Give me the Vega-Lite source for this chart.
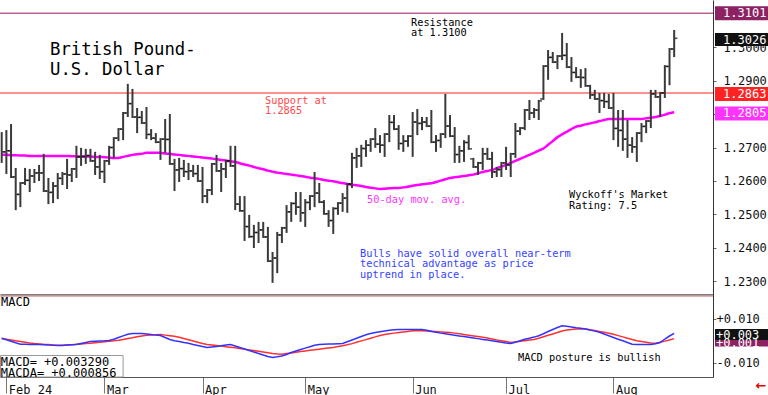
{
"$schema":"https://vega.github.io/schema/vega-lite/v6.json",
"padding":{"left":-4,"right":0,"top":0,"bottom":0},"spacing":0,"background":"white",
"config":{"view":{"stroke":null},"font":"DejaVu Sans Mono","axis":{"labelFont":"DejaVu Sans Mono","grid":false}},
"datasets":{"px":[
{"i":0,"o":null,"h":1.2746,"l":1.2654,"c":1.2687,"ma":1.2678,"m":0.00105,"s":0.00091},
{"i":1,"o":1.2687,"h":1.2752,"l":1.2621,"c":1.2690,"ma":1.2678,"m":0.00036,"s":0.00059},
{"i":2,"o":1.2690,"h":1.2770,"l":1.2609,"c":1.2612,"ma":1.2677,"m":-0.00036,"s":0.00023},
{"i":3,"o":1.2612,"h":1.2639,"l":1.2513,"c":1.2560,"ma":1.2677,"m":-0.00105,"s":-0.00009},
{"i":4,"o":1.2560,"h":1.2597,"l":1.2522,"c":1.2594,"ma":1.2676,"m":-0.00168,"s":-0.00045},
{"i":5,"o":1.2594,"h":1.2639,"l":1.2588,"c":1.2602,"ma":1.2676,"m":-0.00173,"s":-0.00077},
{"i":6,"o":1.2602,"h":1.2636,"l":1.2567,"c":1.2615,"ma":1.2675,"m":-0.00177,"s":-0.00114},
{"i":7,"o":1.2615,"h":1.2636,"l":1.2594,"c":1.2624,"ma":1.2675,"m":-0.00177,"s":-0.00141},
{"i":8,"o":1.2624,"h":1.2648,"l":1.2600,"c":1.2624,"ma":1.2675,"m":-0.00182,"s":-0.00155},
{"i":9,"o":1.2624,"h":1.2681,"l":1.2567,"c":1.2570,"ma":1.2675,"m":-0.00191,"s":-0.00173},
{"i":10,"o":1.2570,"h":1.2609,"l":1.2531,"c":1.2566,"ma":1.2675,"m":-0.00205,"s":-0.00186},
{"i":11,"o":1.2566,"h":1.2597,"l":1.2534,"c":1.2585,"ma":1.2675,"m":-0.00214,"s":-0.00205},
{"i":12,"o":1.2585,"h":1.2624,"l":1.2546,"c":1.2608,"ma":1.2675,"m":-0.00227,"s":-0.00218},
{"i":13,"o":1.2608,"h":1.2627,"l":1.2588,"c":1.2621,"ma":1.2675,"m":-0.00223,"s":-0.00218},
{"i":14,"o":1.2621,"h":1.2666,"l":1.2576,"c":1.2618,"ma":1.2675,"m":-0.00209,"s":-0.00205},
{"i":15,"o":1.2618,"h":1.2639,"l":1.2597,"c":1.2636,"ma":1.2674,"m":-0.00195,"s":-0.00191},
{"i":16,"o":1.2636,"h":1.2705,"l":1.2609,"c":1.2672,"ma":1.2674,"m":-0.00182,"s":-0.00173},
{"i":17,"o":1.2672,"h":1.2699,"l":1.2645,"c":1.2673,"ma":1.2673,"m":-0.00136,"s":-0.00159},
{"i":18,"o":1.2673,"h":1.2696,"l":1.2651,"c":1.2676,"ma":1.2673,"m":-0.00091,"s":-0.00141},
{"i":19,"o":1.2676,"h":1.2696,"l":1.2657,"c":1.2660,"ma":1.2673,"m":-0.00045,"s":-0.00123},
{"i":20,"o":1.2660,"h":1.2687,"l":1.2618,"c":1.2642,"ma":1.2672,"m":-0.00036,"s":-0.00100},
{"i":21,"o":1.2642,"h":1.2678,"l":1.2606,"c":1.2628,"ma":1.2672,"m":-0.00023,"s":-0.00082},
{"i":22,"o":1.2628,"h":1.2663,"l":1.2594,"c":1.2660,"ma":1.2671,"m":-0.00014,"s":-0.00059},
{"i":23,"o":1.2660,"h":1.2705,"l":1.2648,"c":1.2700,"ma":1.2670,"m":0,"s":-0.00036},
{"i":24,"o":1.2700,"h":1.2731,"l":1.2669,"c":1.2728,"ma":1.2669,"m":0.00059,"s":-0.00014},
{"i":25,"o":1.2728,"h":1.2758,"l":1.2719,"c":1.2755,"ma":1.2669,"m":0.00136,"s":0.00014},
{"i":26,"o":1.2755,"h":1.2806,"l":1.2722,"c":1.2803,"ma":1.2672,"m":0.00209,"s":0.00050},
{"i":27,"o":1.2803,"h":1.2890,"l":1.2791,"c":1.2831,"ma":1.2675,"m":0.00282,"s":0.00091},
{"i":28,"o":1.2831,"h":1.2875,"l":1.2788,"c":1.2791,"ma":1.2678,"m":0.00318,"s":0.00127},
{"i":29,"o":1.2791,"h":1.2818,"l":1.2743,"c":1.2790,"ma":1.2680,"m":0.00318,"s":0.00168},
{"i":30,"o":1.2790,"h":1.2809,"l":1.2770,"c":1.2773,"ma":1.2681,"m":0.00318,"s":0.00209},
{"i":31,"o":1.2773,"h":1.2821,"l":1.2725,"c":1.2739,"ma":1.2684,"m":0.00300,"s":0.00236},
{"i":32,"o":1.2739,"h":1.2755,"l":1.2722,"c":1.2728,"ma":1.2684,"m":0.00273,"s":0.00250},
{"i":33,"o":1.2728,"h":1.2743,"l":1.2713,"c":1.2716,"ma":1.2684,"m":0.00245,"s":0.00264},
{"i":34,"o":1.2716,"h":1.2728,"l":1.2663,"c":1.2725,"ma":1.2684,"m":0.00227,"s":0.00273},
{"i":35,"o":1.2725,"h":1.2785,"l":1.2684,"c":1.2724,"ma":1.2682,"m":0.00136,"s":0.00245},
{"i":36,"o":1.2724,"h":1.2800,"l":1.2648,"c":1.2651,"ma":1.2681,"m":0.00045,"s":0.00218},
{"i":37,"o":1.2651,"h":1.2666,"l":1.2570,"c":1.2633,"ma":1.2679,"m":-0.00014,"s":0.00191},
{"i":38,"o":1.2633,"h":1.2669,"l":1.2597,"c":1.2637,"ma":1.2678,"m":-0.00045,"s":0.00145},
{"i":39,"o":1.2637,"h":1.2663,"l":1.2612,"c":1.2628,"ma":1.2676,"m":-0.00091,"s":0.00091},
{"i":40,"o":1.2628,"h":1.2654,"l":1.2603,"c":1.2630,"ma":1.2675,"m":-0.00127,"s":0.00032},
{"i":41,"o":1.2630,"h":1.2648,"l":1.2612,"c":1.2622,"ma":1.2673,"m":-0.00182,"s":-0.00023},
{"i":42,"o":1.2622,"h":1.2648,"l":1.2597,"c":1.2600,"ma":1.2672,"m":-0.00227,"s":-0.00077},
{"i":43,"o":1.2600,"h":1.2642,"l":1.2534,"c":1.2555,"ma":1.2670,"m":-0.00273,"s":-0.00136},
{"i":44,"o":1.2555,"h":1.2576,"l":1.2534,"c":1.2573,"ma":1.2669,"m":-0.00318,"s":-0.00182},
{"i":45,"o":1.2573,"h":1.2654,"l":1.2558,"c":1.2651,"ma":1.2667,"m":-0.00295,"s":-0.00205},
{"i":46,"o":1.2651,"h":1.2678,"l":1.2627,"c":1.2630,"ma":1.2665,"m":-0.00273,"s":-0.00232},
{"i":47,"o":1.2630,"h":1.2654,"l":1.2567,"c":1.2636,"ma":1.2663,"m":-0.00241,"s":-0.00255},
{"i":48,"o":1.2636,"h":1.2663,"l":1.2609,"c":1.2660,"ma":1.2661,"m":-0.00205,"s":-0.00282},
{"i":49,"o":1.2660,"h":1.2705,"l":1.2642,"c":1.2645,"ma":1.2659,"m":-0.00182,"s":-0.00309},
{"i":50,"o":1.2645,"h":1.2705,"l":1.2513,"c":1.2531,"ma":1.2657,"m":-0.00250,"s":-0.00332},
{"i":51,"o":1.2531,"h":1.2555,"l":1.2508,"c":1.2511,"ma":1.2653,"m":-0.00318,"s":-0.00364},
{"i":52,"o":1.2511,"h":1.2555,"l":1.2421,"c":1.2464,"ma":1.2649,"m":-0.00386,"s":-0.00395},
{"i":53,"o":1.2464,"h":1.2499,"l":1.2430,"c":1.2434,"ma":1.2646,"m":-0.00455,"s":-0.00427},
{"i":54,"o":1.2434,"h":1.2469,"l":1.2400,"c":1.2446,"ma":1.2642,"m":-0.00523,"s":-0.00459},
{"i":55,"o":1.2446,"h":1.2478,"l":1.2415,"c":1.2454,"ma":1.2638,"m":-0.00591,"s":-0.00491},
{"i":56,"o":1.2454,"h":1.2478,"l":1.2430,"c":1.2433,"ma":1.2635,"m":-0.00659,"s":-0.00527},
{"i":57,"o":1.2433,"h":1.2463,"l":1.2358,"c":1.2361,"ma":1.2631,"m":-0.00727,"s":-0.00559},
{"i":58,"o":1.2361,"h":1.2388,"l":1.2296,"c":1.2370,"ma":1.2628,"m":-0.00773,"s":-0.00591},
{"i":59,"o":1.2370,"h":1.2448,"l":1.2325,"c":1.2439,"ma":1.2625,"m":-0.00741,"s":-0.00618},
{"i":60,"o":1.2439,"h":1.2463,"l":1.2415,"c":1.2460,"ma":1.2623,"m":-0.00704,"s":-0.00627},
{"i":61,"o":1.2460,"h":1.2528,"l":1.2445,"c":1.2508,"ma":1.2621,"m":-0.00636,"s":-0.00595},
{"i":62,"o":1.2508,"h":1.2537,"l":1.2478,"c":1.2533,"ma":1.2619,"m":-0.00545,"s":-0.00564},
{"i":63,"o":1.2533,"h":1.2567,"l":1.2499,"c":1.2522,"ma":1.2617,"m":-0.00477,"s":-0.00532},
{"i":64,"o":1.2522,"h":1.2567,"l":1.2478,"c":1.2505,"ma":1.2615,"m":-0.00409,"s":-0.00500},
{"i":65,"o":1.2505,"h":1.2546,"l":1.2463,"c":1.2536,"ma":1.2613,"m":-0.00345,"s":-0.00473},
{"i":66,"o":1.2536,"h":1.2558,"l":1.2513,"c":1.2555,"ma":1.2610,"m":-0.00282,"s":-0.00445},
{"i":67,"o":1.2555,"h":1.2627,"l":1.2522,"c":1.2564,"ma":1.2608,"m":-0.00214,"s":-0.00423},
{"i":68,"o":1.2564,"h":1.2594,"l":1.2534,"c":1.2537,"ma":1.2606,"m":-0.00182,"s":-0.00395},
{"i":69,"o":1.2537,"h":1.2543,"l":1.2499,"c":1.2502,"ma":1.2603,"m":-0.00173,"s":-0.00368},
{"i":70,"o":1.2502,"h":1.2513,"l":1.2463,"c":1.2482,"ma":1.2601,"m":-0.00164,"s":-0.00345},
{"i":71,"o":1.2482,"h":1.2522,"l":1.2442,"c":1.2518,"ma":1.2599,"m":-0.00155,"s":-0.00318},
{"i":72,"o":1.2518,"h":1.2537,"l":1.2499,"c":1.2534,"ma":1.2596,"m":-0.00145,"s":-0.00277},
{"i":73,"o":1.2534,"h":1.2564,"l":1.2508,"c":1.2549,"ma":1.2594,"m":-0.00136,"s":-0.00236},
{"i":74,"o":1.2549,"h":1.2594,"l":1.2505,"c":1.2591,"ma":1.2591,"m":-0.00059,"s":-0.00191},
{"i":75,"o":1.2591,"h":1.2684,"l":1.2579,"c":1.2669,"ma":1.2589,"m":0.00023,"s":-0.00141},
{"i":76,"o":1.2669,"h":1.2699,"l":1.2639,"c":1.2675,"ma":1.2587,"m":0.00100,"s":-0.00082},
{"i":77,"o":1.2675,"h":1.2708,"l":1.2642,"c":1.2697,"ma":1.2585,"m":0.00182,"s":-0.00018},
{"i":78,"o":1.2697,"h":1.2722,"l":1.2672,"c":1.2707,"ma":1.2582,"m":0.00259,"s":0.00041},
{"i":79,"o":1.2707,"h":1.2728,"l":1.2687,"c":1.2725,"ma":1.2580,"m":0.00318,"s":0.00105},
{"i":80,"o":1.2725,"h":1.2758,"l":1.2699,"c":1.2710,"ma":1.2578,"m":0.00364,"s":0.00164},
{"i":81,"o":1.2710,"h":1.2737,"l":1.2684,"c":1.2707,"ma":1.2576,"m":0.00400,"s":0.00227},
{"i":82,"o":1.2707,"h":1.2743,"l":1.2672,"c":1.2740,"ma":1.2577,"m":0.00432,"s":0.00277},
{"i":83,"o":1.2740,"h":1.2797,"l":1.2716,"c":1.2775,"ma":1.2578,"m":0.00464,"s":0.00305},
{"i":84,"o":1.2775,"h":1.2797,"l":1.2752,"c":1.2755,"ma":1.2579,"m":0.00491,"s":0.00336},
{"i":85,"o":1.2755,"h":1.2767,"l":1.2693,"c":1.2712,"ma":1.2579,"m":0.00500,"s":0.00364},
{"i":86,"o":1.2712,"h":1.2737,"l":1.2687,"c":1.2719,"ma":1.2581,"m":0.00500,"s":0.00391},
{"i":87,"o":1.2719,"h":1.2737,"l":1.2702,"c":1.2734,"ma":1.2583,"m":0.00500,"s":0.00414},
{"i":88,"o":1.2734,"h":1.2806,"l":1.2672,"c":1.2776,"ma":1.2586,"m":0.00500,"s":0.00441},
{"i":89,"o":1.2776,"h":1.2815,"l":1.2737,"c":1.2772,"ma":1.2588,"m":0.00500,"s":0.00455},
{"i":90,"o":1.2772,"h":1.2791,"l":1.2752,"c":1.2776,"ma":1.2590,"m":0.00500,"s":0.00441},
{"i":91,"o":1.2776,"h":1.2791,"l":1.2761,"c":1.2764,"ma":1.2592,"m":0.00468,"s":0.00427},
{"i":92,"o":1.2764,"h":1.2812,"l":1.2713,"c":1.2716,"ma":1.2593,"m":0.00423,"s":0.00414},
{"i":93,"o":1.2716,"h":1.2737,"l":1.2687,"c":1.2721,"ma":1.2597,"m":0.00377,"s":0.00405},
{"i":94,"o":1.2721,"h":1.2743,"l":1.2699,"c":1.2740,"ma":1.2601,"m":0.00336,"s":0.00391},
{"i":95,"o":1.2740,"h":1.2860,"l":1.2728,"c":1.2764,"ma":1.2605,"m":0.00305,"s":0.00377},
{"i":96,"o":1.2764,"h":1.2797,"l":1.2731,"c":1.2734,"ma":1.2609,"m":0.00273,"s":0.00364},
{"i":97,"o":1.2734,"h":1.2761,"l":1.2654,"c":1.2679,"ma":1.2611,"m":0.00241,"s":0.00336},
{"i":98,"o":1.2679,"h":1.2705,"l":1.2654,"c":1.2690,"ma":1.2613,"m":0.00209,"s":0.00305},
{"i":99,"o":1.2690,"h":1.2722,"l":1.2657,"c":1.2715,"ma":1.2615,"m":0.00182,"s":0.00273},
{"i":100,"o":1.2715,"h":1.2737,"l":1.2693,"c":1.2696,"ma":1.2617,"m":0.00150,"s":0.00241},
{"i":101,"o":1.2666,"h":1.2669,"l":1.2639,"c":1.2642,"ma":1.2619,"m":0.00118,"s":0.00209},
{"i":102,"o":1.2642,"h":1.2657,"l":1.2618,"c":1.2654,"ma":1.2623,"m":0.00086,"s":0.00177},
{"i":103,"o":1.2654,"h":1.2699,"l":1.2633,"c":1.2681,"ma":1.2627,"m":0.00050,"s":0.00145},
{"i":104,"o":1.2681,"h":1.2699,"l":1.2663,"c":1.2666,"ma":1.2630,"m":0.00018,"s":0.00109},
{"i":105,"o":1.2666,"h":1.2687,"l":1.2609,"c":1.2627,"ma":1.2633,"m":-0.00014,"s":0.00068},
{"i":106,"o":1.2627,"h":1.2642,"l":1.2612,"c":1.2634,"ma":1.2638,"m":-0.00045,"s":0.00027},
{"i":107,"o":1.2634,"h":1.2657,"l":1.2612,"c":1.2654,"ma":1.2643,"m":-0.00077,"s":-0.00009},
{"i":108,"o":1.2654,"h":1.2702,"l":1.2633,"c":1.2648,"ma":1.2648,"m":-0.00109,"s":-0.00050},
{"i":109,"o":1.2648,"h":1.2684,"l":1.2612,"c":1.2681,"ma":1.2654,"m":-0.00136,"s":-0.00091},
{"i":110,"o":1.2681,"h":1.2773,"l":1.2669,"c":1.2749,"ma":1.2660,"m":-0.00077,"s":-0.00064},
{"i":111,"o":1.2749,"h":1.2761,"l":1.2737,"c":1.2758,"ma":1.2666,"m":-0.00014,"s":-0.00036},
{"i":112,"o":1.2758,"h":1.2815,"l":1.2752,"c":1.2812,"ma":1.2672,"m":0.00055,"s":-0.00009},
{"i":113,"o":1.2812,"h":1.2842,"l":1.2782,"c":1.2803,"ma":1.2678,"m":0.00105,"s":0.00018},
{"i":114,"o":1.2803,"h":1.2818,"l":1.2788,"c":1.2812,"ma":1.2684,"m":0.00155,"s":0.00045},
{"i":115,"o":1.2812,"h":1.2842,"l":1.2782,"c":1.2839,"ma":1.2691,"m":0.00218,"s":0.00105},
{"i":116,"o":1.2845,"h":1.2946,"l":1.2842,"c":1.2943,"ma":1.2697,"m":0.00309,"s":0.00173},
{"i":117,"o":1.2943,"h":1.2991,"l":1.2902,"c":1.2969,"ma":1.2708,"m":0.00409,"s":0.00236},
{"i":118,"o":1.2969,"h":1.2985,"l":1.2952,"c":1.2955,"ma":1.2719,"m":0.00500,"s":0.00300},
{"i":119,"o":1.2955,"h":1.2976,"l":1.2934,"c":1.2973,"ma":1.2731,"m":0.00591,"s":0.00364},
{"i":120,"o":1.2973,"h":1.3042,"l":1.2961,"c":1.2975,"ma":1.2739,"m":0.00673,"s":0.00432},
{"i":121,"o":1.2975,"h":1.3012,"l":1.2937,"c":1.2940,"ma":1.2747,"m":0.00645,"s":0.00477},
{"i":122,"o":1.2940,"h":1.2970,"l":1.2896,"c":1.2924,"ma":1.2755,"m":0.00614,"s":0.00500},
{"i":123,"o":1.2924,"h":1.2940,"l":1.2907,"c":1.2910,"ma":1.2762,"m":0.00582,"s":0.00518},
{"i":124,"o":1.2910,"h":1.2934,"l":1.2878,"c":1.2909,"ma":1.2765,"m":0.00555,"s":0.00536},
{"i":125,"o":1.2909,"h":1.2937,"l":1.2881,"c":1.2884,"ma":1.2769,"m":0.00527,"s":0.00527},
{"i":126,"o":1.2884,"h":1.2887,"l":1.2845,"c":1.2857,"ma":1.2772,"m":0.00477,"s":0.00486},
{"i":127,"o":1.2857,"h":1.2872,"l":1.2842,"c":1.2845,"ma":1.2775,"m":0.00427,"s":0.00450},
{"i":128,"o":1.2845,"h":1.2863,"l":1.2803,"c":1.2840,"ma":1.2779,"m":0.00373,"s":0.00409},
{"i":129,"o":1.2840,"h":1.2863,"l":1.2818,"c":1.2837,"ma":1.2782,"m":0.00295,"s":0.00373},
{"i":130,"o":1.2837,"h":1.2860,"l":1.2815,"c":1.2818,"ma":1.2785,"m":0.00218,"s":0.00332},
{"i":131,"o":1.2818,"h":1.2863,"l":1.2722,"c":1.2757,"ma":1.2785,"m":0.00136,"s":0.00282},
{"i":132,"o":1.2757,"h":1.2812,"l":1.2702,"c":1.2751,"ma":1.2785,"m":0.00059,"s":0.00223},
{"i":133,"o":1.2751,"h":1.2812,"l":1.2690,"c":1.2725,"ma":1.2785,"m":-0.00014,"s":0.00164},
{"i":134,"o":1.2725,"h":1.2782,"l":1.2669,"c":1.2707,"ma":1.2785,"m":-0.00091,"s":0.00105},
{"i":135,"o":1.2707,"h":1.2731,"l":1.2684,"c":1.2702,"ma":1.2785,"m":-0.00173,"s":0.00045},
{"i":136,"o":1.2702,"h":1.2746,"l":1.2657,"c":1.2743,"ma":1.2785,"m":-0.00182,"s":-0.00009},
{"i":137,"o":1.2743,"h":1.2773,"l":1.2716,"c":1.2763,"ma":1.2785,"m":-0.00182,"s":-0.00045},
{"i":138,"o":1.2763,"h":1.2782,"l":1.2743,"c":1.2779,"ma":1.2787,"m":-0.00182,"s":-0.00082},
{"i":139,"o":1.2779,"h":1.2872,"l":1.2758,"c":1.2860,"ma":1.2789,"m":-0.00182,"s":-0.00118},
{"i":140,"o":1.2860,"h":1.2872,"l":1.2848,"c":1.2851,"ma":1.2791,"m":-0.00145,"s":-0.00123},
{"i":141,"o":1.2851,"h":1.2866,"l":1.2791,"c":1.2863,"ma":1.2794,"m":-0.00091,"s":-0.00082},
{"i":142,"o":1.2863,"h":1.2946,"l":1.2848,"c":1.2942,"ma":1.2798,"m":0.00068,"s":-0.00027},
{"i":143,"o":1.2942,"h":1.2997,"l":1.2886,"c":1.2994,"ma":1.2802,"m":0.00205,"s":0.00027},
{"i":144,"o":1.2994,"h":1.3051,"l":1.2970,"c":1.3026,"ma":1.2805,"m":0.00329,"s":0.000856}
]},
"resolve":{"scale":{"x":"independent","y":"independent"},"axis":{"x":"independent","y":"independent"}},
"vconcat":[
{"width":713,"height":295,
"layer":[
{"data":{"values":[{}]},"mark":{"type":"rule","color":"#c0608f","strokeWidth":1.5},"encoding":{"y":{"datum":1.3101,"type":"quantitative","scale":{"domain":[1.22597,1.31403],"nice":false,"zero":false}}}},
{"data":{"values":[{}]},"mark":{"type":"rule","color":"#ff6b6b","strokeWidth":1.5},"encoding":{"y":{"datum":1.2863,"type":"quantitative","scale":{"domain":[1.22597,1.31403],"nice":false,"zero":false}}}},
{"data":{"name":"px"},"mark":{"type":"line","color":"#ff00ff","strokeWidth":2.5,"interpolate":"monotone"},"encoding":{"x":{"field":"i","type":"quantitative","scale":{"domain":[-0.364,152.313],"nice":false,"zero":false}},"y":{"field":"ma","type":"quantitative","scale":{"domain":[1.22597,1.31403],"nice":false,"zero":false}}}},
{"data":{"name":"px"},"mark":{"type":"rule","color":"#3a3a3a","strokeWidth":2},"encoding":{
 "x":{"field":"i","type":"quantitative","scale":{"domain":[-0.364,152.313],"nice":false,"zero":false},"axis":{"orient":"bottom","labels":false,"ticks":false,"domain":true,"domainColor":"#000","domainWidth":2,"title":null}},
 "y":{"field":"l","type":"quantitative","scale":{"domain":[1.22597,1.31403],"nice":false,"zero":false},"axis":{"orient":"right","values":[1.23,1.24,1.25,1.26,1.27,1.28,1.29,1.30],"format":".4f","title":null,"tickSize":3,"tickColor":"#666","domainColor":"#333","labelFontSize":12,"labelColor":"#111","labelPadding":7,"labelBaseline":"middle"}},
 "y2":{"field":"h"}}},
{"data":{"name":"px"},"mark":{"type":"tick","orient":"horizontal","size":2.5,"thickness":1.5,"xOffset":-2,"color":"#000"},"encoding":{"x":{"field":"i","type":"quantitative","scale":{"domain":[-0.364,152.313],"nice":false,"zero":false}},"y":{"field":"o","type":"quantitative","scale":{"domain":[1.22597,1.31403],"nice":false,"zero":false}}}},
{"data":{"name":"px"},"mark":{"type":"tick","orient":"horizontal","size":2.5,"thickness":1.5,"xOffset":2,"color":"#000"},"encoding":{"x":{"field":"i","type":"quantitative","scale":{"domain":[-0.364,152.313],"nice":false,"zero":false}},"y":{"field":"c","type":"quantitative","scale":{"domain":[1.22597,1.31403],"nice":false,"zero":false}}}},
{"data":{"values":[{}]},"mark":{"type":"text","text":["British Pound-","U.S. Dollar"],"align":"left","baseline":"top","fontSize":17.3,"lineHeight":20,"fill":"#000"},"encoding":{"x":{"datum":10.34,"type":"quantitative","scale":{"domain":[-0.364,152.313],"nice":false,"zero":false}},"y":{"datum":1.3018,"type":"quantitative","scale":{"domain":[1.22597,1.31403],"nice":false,"zero":false}}}},
{"data":{"values":[{}]},"mark":{"type":"text","text":["Resistance","at 1.3100"],"align":"left","baseline":"top","fontSize":10.3,"lineHeight":10.3,"fill":"#000"},"encoding":{"x":{"datum":87.64,"type":"quantitative","scale":{"domain":[-0.364,152.313],"nice":false,"zero":false}},"y":{"datum":1.3088,"type":"quantitative","scale":{"domain":[1.22597,1.31403],"nice":false,"zero":false}}}},
{"data":{"values":[{}]},"mark":{"type":"text","text":["Support at","1.2865"],"align":"left","baseline":"top","fontSize":10.3,"lineHeight":10,"fill":"#ff4848"},"encoding":{"x":{"datum":56.38,"type":"quantitative","scale":{"domain":[-0.364,152.313],"nice":false,"zero":false}},"y":{"datum":1.2854,"type":"quantitative","scale":{"domain":[1.22597,1.31403],"nice":false,"zero":false}}}},
{"data":{"values":[{}]},"mark":{"type":"text","text":"50-day mov. avg.","align":"left","baseline":"top","fontSize":10.3,"fill":"#ff33ff"},"encoding":{"x":{"datum":78.22,"type":"quantitative","scale":{"domain":[-0.364,152.313],"nice":false,"zero":false}},"y":{"datum":1.2557,"type":"quantitative","scale":{"domain":[1.22597,1.31403],"nice":false,"zero":false}}}},
{"data":{"values":[{}]},"mark":{"type":"text","text":["Bulls have solid overall near-term","technical advantage as price","uptrend in place."],"align":"left","baseline":"top","fontSize":10.3,"lineHeight":10.7,"fill":"#3344ff"},"encoding":{"x":{"datum":76.72,"type":"quantitative","scale":{"domain":[-0.364,152.313],"nice":false,"zero":false}},"y":{"datum":1.23985,"type":"quantitative","scale":{"domain":[1.22597,1.31403],"nice":false,"zero":false}}}},
{"data":{"values":[{}]},"mark":{"type":"text","text":["Wyckoff's Market","Rating: 7.5"],"align":"left","baseline":"top","fontSize":10.3,"lineHeight":10.5,"fill":"#000"},"encoding":{"x":{"datum":121.48,"type":"quantitative","scale":{"domain":[-0.364,152.313],"nice":false,"zero":false}},"y":{"datum":1.2573,"type":"quantitative","scale":{"domain":[1.22597,1.31403],"nice":false,"zero":false}}}},
{"data":{"values":[{"lab":"1.3101","top":1.31218,"bot":1.30800,"mid":1.3101,"k":"a"},{"lab":"1.3026","top":1.30418,"bot":1.30030,"mid":1.3022,"k":"b"},{"lab":"1.2863","top":1.28806,"bot":1.28388,"mid":1.2860,"k":"c"},{"lab":"1.2805","top":1.28224,"bot":1.27806,"mid":1.2802,"k":"d"}]},
 "layer":[
 {"mark":{"type":"rect"},"encoding":{"x":{"datum":152.74,"type":"quantitative","scale":{"domain":[-0.364,152.313],"nice":false,"zero":false}},"x2":{"datum":164.09},"y":{"field":"top","type":"quantitative","scale":{"domain":[1.22597,1.31403],"nice":false,"zero":false}},"y2":{"field":"bot"},"color":{"field":"k","type":"nominal","scale":{"domain":["a","b","c","d"],"range":["#8c2262","#111111","#ff2222","#ff33ff"]},"legend":null}}},
 {"mark":{"type":"text","align":"left","baseline":"middle","fontSize":12,"fill":"#fff"},"encoding":{"x":{"datum":154.46,"type":"quantitative","scale":{"domain":[-0.364,152.313],"nice":false,"zero":false}},"y":{"field":"mid","type":"quantitative","scale":{"domain":[1.22597,1.31403],"nice":false,"zero":false}},"text":{"field":"lab"}}}
 ]}
]},
{"width":713,"height":82,
"layer":[
{"data":{"values":[{}]},"mark":{"type":"rect","fill":"#fff","stroke":"#999","strokeWidth":1},"encoding":{"x":{"datum":-0.25,"type":"quantitative","scale":{"domain":[-0.364,152.313],"nice":false,"zero":false}},"x2":{"datum":26},"y":{"datum":-0.00682,"type":"quantitative","scale":{"domain":[-0.01659,0.02069],"nice":false,"zero":false}},"y2":{"datum":-0.01659}}},
{"data":{"values":[{}]},"mark":{"type":"rule","color":"#ffc4c4","strokeWidth":1.5},"encoding":{"y":{"datum":0.02024,"type":"quantitative","scale":{"domain":[-0.01659,0.02069],"nice":false,"zero":false}}}},
{"data":{"name":"px"},"mark":{"type":"line","color":"#ff3030","strokeWidth":1.5},"encoding":{"x":{"field":"i","type":"quantitative","scale":{"domain":[-0.364,152.313],"nice":false,"zero":false}},"y":{"field":"s","type":"quantitative","scale":{"domain":[-0.01659,0.02069],"nice":false,"zero":false}}}},
{"data":{"name":"px"},"mark":{"type":"line","color":"#3333ff","strokeWidth":1.5},"encoding":{
 "x":{"field":"i","type":"quantitative","scale":{"domain":[-0.364,152.313],"nice":false,"zero":false},"axis":{"orient":"bottom","values":[1,22,43,65,88,108,131],"labelExpr":"datum.value==1?'Feb 24':datum.value==22?'Mar':datum.value==43?'Apr':datum.value==65?'May':datum.value==88?'Jun':datum.value==108?'Jul':'Aug'","tickSize":16,"tickColor":"#777","domainColor":"#555","labelAlign":"left","labelBaseline":"middle","labelPadding":-4,"labelOffset":2,"labelFontSize":12,"labelColor":"#111","labelOverlap":false,"labelFlush":false,"labelBound":false,"title":null}},
 "y":{"field":"m","type":"quantitative","scale":{"domain":[-0.01659,0.02069],"nice":false,"zero":false},"axis":{"orient":"right","values":[-0.01,0.01],"labelExpr":"datum.value > 0 ? '+0.010' : '-0.010'","title":null,"tickSize":3,"tickColor":"#666","domainColor":"#333","labelFontSize":12,"labelColor":"#111","labelPadding":0,"labelBaseline":"middle"}}}},
{"data":{"values":[{}]},"mark":{"type":"text","text":"MACD","align":"left","baseline":"top","fontSize":12,"fill":"#000"},"encoding":{"x":{"datum":-0.15,"type":"quantitative","scale":{"domain":[-0.364,152.313],"nice":false,"zero":false}},"y":{"datum":0.02000,"type":"quantitative","scale":{"domain":[-0.01659,0.02069],"nice":false,"zero":false}}}},
{"data":{"values":[{}]},"mark":{"type":"text","text":["MACD=  +0.003290","MACDA= +0.000856"],"align":"left","baseline":"top","fontSize":12,"lineHeight":11,"fill":"#000"},"encoding":{"x":{"datum":-0.2,"type":"quantitative","scale":{"domain":[-0.364,152.313],"nice":false,"zero":false}},"y":{"datum":-0.0075,"type":"quantitative","scale":{"domain":[-0.01659,0.02069],"nice":false,"zero":false}}}},
{"data":{"values":[{}]},"mark":{"type":"text","text":"MACD posture is bullish","align":"left","baseline":"top","fontSize":10.3,"fill":"#000"},"encoding":{"x":{"datum":110.56,"type":"quantitative","scale":{"domain":[-0.364,152.313],"nice":false,"zero":false}},"y":{"datum":-0.00568,"type":"quantitative","scale":{"domain":[-0.01659,0.02069],"nice":false,"zero":false}}}},
{"data":{"values":[{"lab":"+0.001","top":0.00091,"bot":-0.00273,"mid":-0.00114,"k":"r"},{"lab":"+0.003","top":0.00523,"bot":0.00023,"mid":0.00273,"k":"b"}]},
 "layer":[
 {"mark":{"type":"rect"},"encoding":{"x":{"datum":152.74,"type":"quantitative","scale":{"domain":[-0.364,152.313],"nice":false,"zero":false}},"x2":{"datum":164.09},"y":{"field":"top","type":"quantitative","scale":{"domain":[-0.01659,0.02069],"nice":false,"zero":false}},"y2":{"field":"bot"},"color":{"field":"k","type":"nominal","scale":{"domain":["r","b"],"range":["#ff2222","#2222ee"]},"legend":null}}},
 {"mark":{"type":"text","align":"left","baseline":"middle","fontSize":12,"fill":"#fff"},"encoding":{"x":{"datum":152.95,"type":"quantitative","scale":{"domain":[-0.364,152.313],"nice":false,"zero":false}},"y":{"field":"mid","type":"quantitative","scale":{"domain":[-0.01659,0.02069],"nice":false,"zero":false}},"text":{"field":"lab"}}}
 ]},
{"data":{"values":[{}]},"mark":{"type":"text","text":"←","align":"center","baseline":"middle","fontSize":13,"fontWeight":"bold","fill":"#e00000","font":"DejaVu Sans"},"encoding":{"x":{"datum":162.6,"type":"quantitative","scale":{"domain":[-0.364,152.313],"nice":false,"zero":false}},"y":{"datum":-0.0208,"type":"quantitative","scale":{"domain":[-0.01659,0.02069],"nice":false,"zero":false}}}}
]}
]
}
